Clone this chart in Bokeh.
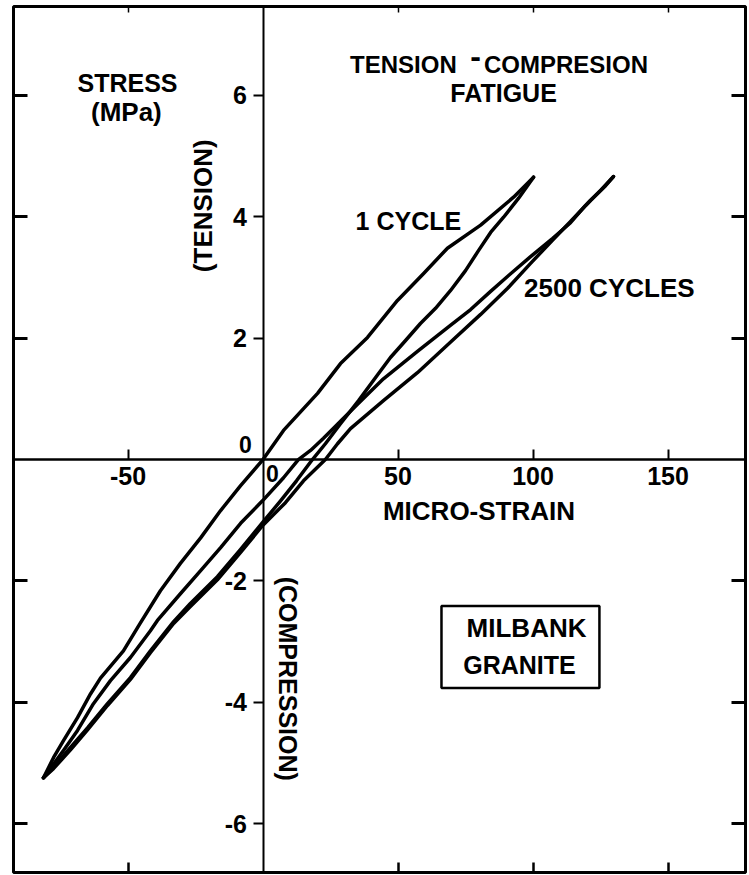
import math
from bokeh.plotting import figure
from bokeh.models import LinearAxis, FixedTicker, BoxAnnotation
from bokeh.core.properties import value
from bokeh.embed import file_html
from bokeh.resources import INLINE

# ---------------- data ----------------
strain_ticks = [-50, 50, 100, 150]
stress_ticks = [-6, -4, -2, 2, 4, 6]
strain_tick_labels = ["-50", "50", "100", "150"]
stress_tick_labels = ["-6", "-4", "-2", "2", "4", "6"]

# 1 cycle, left branch (through origin)
one_cycle_a_strain = [-81.3, -77.6, -73.9, -68.7, -63.9, -60.2, -51.7, -45.4, -38.0, -30.6, -23.1,
                      -15.7, -8.3, 0.0, 7.6, 20.2, 28.7, 38.7, 49.8, 59.4, 68.3, 80.6, 92.8, 100.2]
one_cycle_a_stress = [-5.24, -4.91, -4.63, -4.25, -3.86, -3.60, -3.15, -2.69, -2.16, -1.71, -1.29,
                      -0.84, -0.43, 0.0, 0.48, 1.09, 1.58, 2.01, 2.62, 3.06, 3.48, 3.86, 4.32, 4.65]
# 1 cycle, right branch
one_cycle_b_strain = [100.2, 94.6, 89.1, 84.3, 79.8, 75.0, 69.4, 63.9, 58.3, 52.8, 47.2, 41.7, 35.4,
                      28.7, 23.1, 18.3, 12.4, 6.5, -0.2, -8.3, -16.9, -26.9, -33.1, -41.7, -49.1,
                      -57.6, -65.0, -71.3, -77.6, -81.3]
one_cycle_b_stress = [4.65, 4.30, 3.99, 3.74, 3.44, 3.11, 2.78, 2.49, 2.24, 1.96, 1.68, 1.35, 0.97,
                      0.59, 0.26, 0.0, -0.35, -0.68, -1.04, -1.48, -1.93, -2.37, -2.67, -3.15, -3.59,
                      -4.02, -4.42, -4.74, -5.07, -5.24]
# 2500 cycles, upper branch
cyc2500_a_strain = [129.8, 125.0, 119.4, 113.9, 107.2, 99.1, 91.7, 84.3, 76.9, 69.4, 57.2, 44.6, 35.0,
                    28.7, 22.4, 17.6, 13.1, 7.6, -0.2, -8.3, -15.7, -23.1, -30.6, -39.1, -41.7, -49.1,
                    -56.5, -62.8, -68.7, -73.9, -81.3]
cyc2500_a_stress = [4.66, 4.43, 4.18, 3.90, 3.64, 3.34, 3.06, 2.77, 2.47, 2.21, 1.78, 1.33, 0.91,
                    0.63, 0.35, 0.15, 0.0, -0.30, -0.68, -1.05, -1.45, -1.83, -2.21, -2.65, -2.82, -3.26,
                    -3.64, -4.02, -4.46, -4.79, -5.24]
# 2500 cycles, lower branch
cyc2500_b_strain = [129.8, 126.9, 121.3, 113.9, 107.2, 99.1, 90.6, 80.6, 69.4, 57.2, 44.6, 32.4, 27.6,
                    23.1, 15.0, 8.3, -0.2, -8.3, -16.9, -26.9, -33.1, -41.7, -49.1, -57.6, -65.0,
                    -71.3, -77.6, -81.3]
cyc2500_b_stress = [4.66, 4.51, 4.27, 3.92, 3.61, 3.23, 2.82, 2.39, 1.93, 1.43, 0.97, 0.51, 0.26,
                    0.0, -0.35, -0.71, -1.09, -1.53, -1.98, -2.42, -2.70, -3.18, -3.62, -4.05, -4.45,
                    -4.78, -5.09, -5.24]

# ---------------- figure ----------------
X0, X1 = -92.41, 178.70
Y0, Y1 = -6.80, 7.46
FONT = value("Liberation Sans")
LIFT = 0.15  # baseline correction for alphabetic-aligned texts

p = figure(width=749, height=875, x_range=(X0, X1), y_range=(Y0, Y1),
           x_axis_type=None, y_axis_type=None, output_backend="svg",
           toolbar_location=None, min_border_left=13, min_border_right=4,
           min_border_top=6, min_border_bottom=3)
p.outline_line_color = "black"
p.outline_line_width = 3
p.background_fill_color = "white"
p.border_fill_color = "white"


def frame_axis(side, loc, ticks, tin, width):
    ax = LinearAxis(fixed_location=loc, ticker=FixedTicker(ticks=ticks))
    ax.axis_line_color = None
    ax.major_tick_in = tin
    ax.major_tick_out = 0
    ax.major_tick_line_width = width
    ax.major_tick_line_color = "black"
    ax.minor_tick_line_color = None
    ax.major_label_text_color = None
    ax.major_label_text_font_size = "0px"
    p.add_layout(ax, side)


frame_axis("left", X0, stress_ticks, 14, 3)
frame_axis("right", X1, stress_ticks, 14, 3)
frame_axis("below", Y0, strain_ticks, 10, 2.5)
frame_axis("above", Y1, strain_ticks, 6, 1.5)

# central axes through the origin
xa = LinearAxis(fixed_location=0, ticker=FixedTicker(ticks=strain_ticks))
xa.major_label_overrides = {float(t): s for t, s in zip(strain_ticks, strain_tick_labels)}
xa.axis_line_width = 2.5
xa.major_tick_in = 10
xa.major_tick_out = 0
xa.major_tick_line_width = 2
xa.minor_tick_line_color = None
xa.major_label_standoff = 7
xa.major_label_text_font = "Liberation Sans"
xa.major_label_text_font_style = "bold"
xa.major_label_text_font_size = "25px"
xa.major_label_text_color = "black"
p.add_layout(xa, "below")

ya = LinearAxis(fixed_location=0, ticker=FixedTicker(ticks=stress_ticks))
ya.major_label_overrides = {float(t): s for t, s in zip(stress_ticks, stress_tick_labels)}
ya.axis_line_width = 2
ya.major_tick_in = 0
ya.major_tick_out = 10
ya.major_tick_line_width = 2
ya.minor_tick_line_color = None
ya.major_label_standoff = 6
ya.major_label_text_font = "Liberation Sans"
ya.major_label_text_font_style = "bold"
ya.major_label_text_font_size = "25px"
ya.major_label_text_color = "black"
p.add_layout(ya, "left")

# ---------------- hysteresis loops ----------------
for xs, ys in [(one_cycle_a_strain, one_cycle_a_stress),
               (one_cycle_b_strain, one_cycle_b_stress),
               (cyc2500_a_strain, cyc2500_a_stress),
               (cyc2500_b_strain, cyc2500_b_stress)]:
    p.line(xs, ys, line_color="black", line_width=3.5, line_join="round", line_cap="round")

# ---------------- texts ----------------
def txt(x, y, s, size, align="center", baseline="alphabetic", angle=0.0):
    if baseline == "alphabetic":
        y = y + LIFT
    p.text(x=[x], y=[y], text=[s], text_font=FONT, text_font_style="bold",
           text_font_size=size, text_align=align, text_baseline=baseline,
           text_color="black", angle=angle)


txt(-50.2, 6.05, "STRESS", "25px")
txt(-50.6, 5.58, "(MPa)", "26px")
txt(52.0, 6.36, "TENSION", "24px")
txt(78.7, 6.50, "-", "32px")
txt(112.2, 6.36, "COMPRESION", "24px")
txt(89.1, 5.88, "FATIGUE", "25px")
txt(34.3, 3.77, "1 CYCLE", "25px", align="left")
txt(129.6, 2.67, "2500  CYCLES", "26px")
txt(80.0, -1.00, "MICRO-STRAIN", "26px")
txt(-22.4, 4.18, "(TENSION)", "26px", baseline="middle", angle=math.pi / 2)
txt(9.1, -3.61, "(COMPRESSION)", "25px", baseline="middle", angle=-math.pi / 2)
txt(-6.5, 0.10, "0", "23px")
txt(3.5, -0.38, "0", "23px")

box = BoxAnnotation(left=66.1, right=124.6, top=-2.41, bottom=-3.76,
                    fill_color=None, fill_alpha=0, line_color="black", line_alpha=1.0,
                    line_width=2.5)
p.add_layout(box)
txt(97.6, -2.93, "MILBANK", "26px")
txt(95.0, -3.53, "GRANITE", "25px")

open("out.html", "w").write(file_html(p, INLINE))
